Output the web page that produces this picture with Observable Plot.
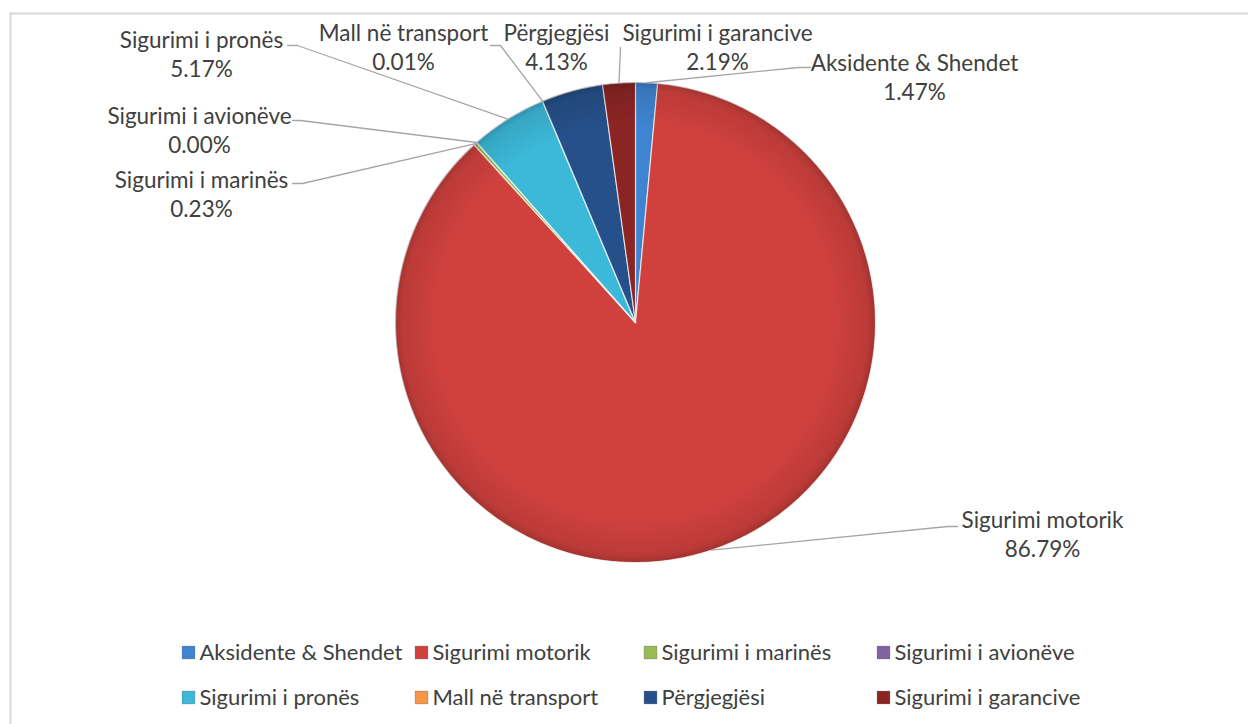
<!DOCTYPE html>
<html><head><meta charset="utf-8">
<script src="https://cdn.jsdelivr.net/npm/d3@7"></script>
<script src="https://cdn.jsdelivr.net/npm/@observablehq/plot@0.6"></script>
<style>body{margin:0;background:#fff} svg{display:block}</style>
</head><body><div id="chart"></div>
<script>
// ---- data ----
const categories = ["Aksidente & Shendet","Sigurimi motorik","Sigurimi i marinës","Sigurimi i avionëve","Sigurimi i pronës","Mall në transport","Përgjegjësi","Sigurimi i garancive"];
const shares = [1.47, 86.79, 0.23, 0.00, 5.17, 0.01, 4.13, 2.19];
const shareLabels = ["1.47%","86.79%","0.23%","0.00%","5.17%","0.01%","4.13%","2.19%"];
const palette = ["#3F84D0","#D0413E","#9BBB59","#8064A2","#3CB9D9","#F79646","#26508A","#8B2524"];

// ---- layout (pixels) ----
const W = 1248, H = 724, CX = 635, CY = 322, R = 240;
const ux = px => (px - CX) / R, uy = py => (CY - py) / R;
const labelLayout = [
  {x: 914, y: 70,  lead: [[810, 67], [798, 67]]},
  {x: 1042, y: 527, lead: [[957, 526], [947, 526]]},
  {x: 201, y: 187, lead: [[292, 183], [302, 183]]},
  {x: 199, y: 123, lead: [[292, 120], [300, 120]]},
  {x: 201, y: 47,  lead: [[287, 45], [297, 45]]},
  {x: 403, y: 40,  lead: [[490, 45], [500, 45]]},
  {x: 556, y: 40,  lead: null},
  {x: 717, y: 40,  lead: [[620, 47]]}
];
const lineGap = 29;
const legendCols = [188, 421, 650, 883], legendRows = [652, 697];
const FONT = "Lato, 'Liberation Sans', sans-serif";
const FS = 22.5;

// ---- geometry from data ----
const rows = categories.map((name, i) => ({name, share: shares[i], label: shareLabels[i]}));
const arcs = d3.pie().sort(null).value(d => d.share).startAngle(0).endAngle(2 * Math.PI)(rows);

const slicePts = [];
arcs.forEach(a => {
  const n = Math.max(2, Math.ceil((a.endAngle - a.startAngle) / (Math.PI / 360)));
  slicePts.push({name: a.data.name, x: 0, y: 0});
  for (let k = 0; k <= n; k++) {
    const t = a.startAngle + (a.endAngle - a.startAngle) * k / n;
    slicePts.push({name: a.data.name, x: Math.sin(t), y: Math.cos(t)});
  }
  slicePts.push({name: a.data.name, x: 0, y: 0});
});

const leadPts = [];
arcs.forEach((a, i) => {
  const L = labelLayout[i];
  if (!L.lead) return;
  L.lead.forEach(p => leadPts.push({name: a.data.name, x: ux(p[0]), y: uy(p[1])}));
  const m = (a.startAngle + a.endAngle) / 2;
  leadPts.push({name: a.data.name, x: Math.sin(m), y: Math.cos(m)});
});

const nameLabels = rows.map((d, i) => ({text: d.name, x: ux(labelLayout[i].x), y: uy(labelLayout[i].y)}));
const pctLabels = rows.map((d, i) => ({text: d.label, x: ux(labelLayout[i].x), y: uy(labelLayout[i].y + lineGap)}));
const legendItems = rows.map((d, i) => ({name: d.name, x: ux(legendCols[i % 4]), y: uy(legendRows[Math.floor(i / 4)])}));

// rim shading overlay
function rimShade(index, scales) {
  const g = d3.create("svg:g");
  const cx = scales.x(0), cy = scales.y(0), r = scales.x(1) - scales.x(0);
  const grad = g.append("defs").append("radialGradient").attr("id", "rim")
    .attr("gradientUnits", "userSpaceOnUse").attr("cx", cx).attr("cy", cy).attr("r", r);
  grad.append("stop").attr("offset", 0.82).attr("stop-color", "#000").attr("stop-opacity", 0);
  grad.append("stop").attr("offset", 0.97).attr("stop-color", "#000").attr("stop-opacity", 0.10);
  grad.append("stop").attr("offset", 1).attr("stop-color", "#000").attr("stop-opacity", 0.22);
  g.append("circle").attr("cx", cx).attr("cy", cy).attr("r", r).attr("fill", "url(#rim)");
  return g.node();
}

const chart = Plot.plot({
  width: W, height: H, margin: 0,
  style: {fontFamily: FONT, background: "#fff"},
  x: {domain: [ux(0), ux(W)], axis: null},
  y: {domain: [uy(H), uy(0)], axis: null},
  color: {domain: categories, range: palette},
  marks: [
    Plot.frame({anchor: "top", stroke: "#d9d9d9", strokeWidth: 2, insetTop: 13, insetLeft: 10}),
    Plot.frame({anchor: "left", stroke: "#d9d9d9", strokeWidth: 2, insetTop: 13, insetLeft: 10}),
    Plot.line(slicePts, {x: "x", y: "y", z: "name", fill: "name", stroke: "#ffffff", strokeOpacity: 0.7, strokeWidth: 1.2, curve: "linear"}),
    rimShade,
    Plot.line(leadPts, {x: "x", y: "y", z: "name", stroke: "#a6a6a6", strokeWidth: 1.3, curve: "linear"}),
    Plot.text(nameLabels, {x: "x", y: "y", text: "text", fontSize: FS, fill: "#404040", textAnchor: "middle", lineAnchor: "bottom"}),
    Plot.text(pctLabels, {x: "x", y: "y", text: "text", fontSize: FS, fill: "#404040", textAnchor: "middle", lineAnchor: "bottom"}),
    Plot.dot(legendItems, {x: "x", y: "y", fill: "name", symbol: "square", r: 7.2, stroke: "#00000040", strokeWidth: 0.8}),
    Plot.text(legendItems, {x: "x", y: "y", text: "name", dx: 11, fontSize: FS - 0.5, fill: "#404040", textAnchor: "start", lineAnchor: "middle"})
  ]
});
document.getElementById("chart").appendChild(chart);
</script>
</body></html>
